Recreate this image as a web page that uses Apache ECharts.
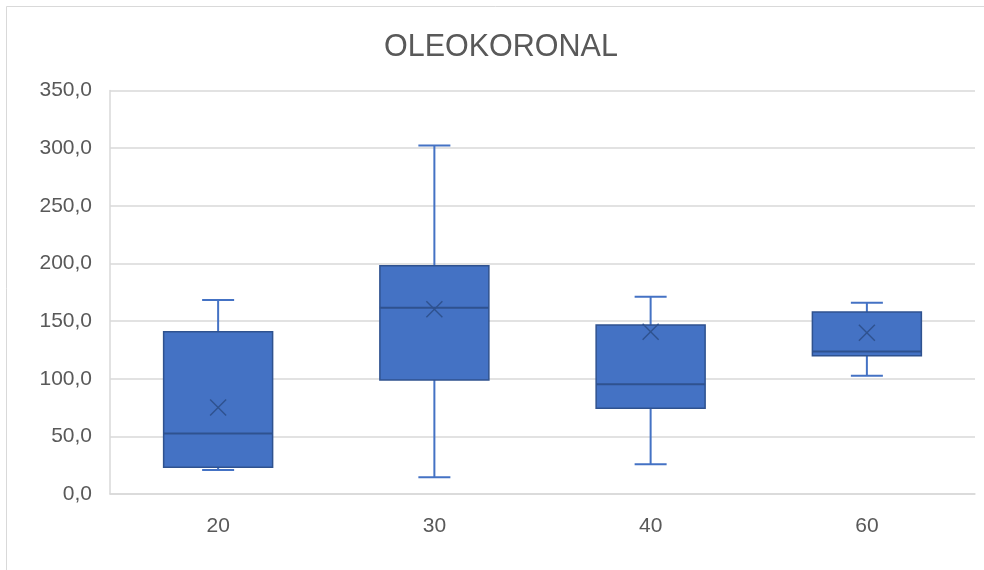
<!DOCTYPE html>
<html>
<head>
<meta charset="utf-8">
<script src="https://cdn.jsdelivr.net/npm/echarts@6/dist/echarts.min.js"></script>
<style>html,body{margin:0;padding:0;background:#fff;}#c{width:984px;height:570px;}</style>
</head>
<body>
<div id="c"></div>
<script>
var categories = ['20', '30', '40', '60'];
var minVals    = [20.9, 14.6, 25.9, 102.6];
var q1Vals     = [23.2, 98.9, 74.4, 120.0];
var medianVals = [52.4, 161.6, 95.3, 123.5];
var q3Vals     = [140.7, 198.0, 146.5, 157.9];
var maxVals    = [168.3, 302.3, 171.2, 166.0];
var meanVals   = [75.0, 160.2, 140.7, 139.9];
var yTicks     = [0, 50, 100, 150, 200, 250, 300, 350];

var data = categories.map(function (c, i) {
  return [i, minVals[i], q1Vals[i], medianVals[i], q3Vals[i], maxVals[i], meanVals[i]];
});

var FILL = '#4472C4', DARK = '#2F528F', WHISK = '#4472C4';

function renderItem(params, api) {
  var idx = api.value(0);
  var band = api.size([1, 0])[0];
  var boxW = band * 0.504, capW = band * 0.148, xs = 8;
  var pMin = api.coord([idx, api.value(1)]);
  var pQ1 = api.coord([idx, api.value(2)]);
  var pMed = api.coord([idx, api.value(3)]);
  var pQ3 = api.coord([idx, api.value(4)]);
  var pMax = api.coord([idx, api.value(5)]);
  var pMean = api.coord([idx, api.value(6)]);
  var cx = pMed[0];
  var wl = {stroke: WHISK, lineWidth: 2};
  return {
    type: 'group',
    children: [
      {type: 'line', shape: {x1: cx, y1: pMax[1], x2: cx, y2: pQ3[1]}, style: wl},
      {type: 'line', shape: {x1: cx - capW / 2, y1: pMax[1], x2: cx + capW / 2, y2: pMax[1]}, style: wl},
      {type: 'line', shape: {x1: cx, y1: pMin[1], x2: cx, y2: pQ1[1]}, style: wl},
      {type: 'line', shape: {x1: cx - capW / 2, y1: pMin[1], x2: cx + capW / 2, y2: pMin[1]}, style: wl},
      {type: 'rect', shape: {x: cx - boxW / 2, y: pQ3[1], width: boxW, height: pQ1[1] - pQ3[1]},
        style: {fill: FILL, stroke: DARK, lineWidth: 1.5}},
      {type: 'line', shape: {x1: cx - boxW / 2, y1: pMed[1], x2: cx + boxW / 2, y2: pMed[1]},
        style: {stroke: DARK, lineWidth: 2}},
      {type: 'line', shape: {x1: cx - xs, y1: pMean[1] - xs, x2: cx + xs, y2: pMean[1] + xs},
        style: {stroke: DARK, lineWidth: 1.5}},
      {type: 'line', shape: {x1: cx - xs, y1: pMean[1] + xs, x2: cx + xs, y2: pMean[1] - xs},
        style: {stroke: DARK, lineWidth: 1.5}}
    ]
  };
}

var chart = echarts.init(document.getElementById('c'), null, {renderer: 'canvas'});
chart.setOption({
  animation: false,
  backgroundColor: '#ffffff',
  textStyle: {fontFamily: 'Liberation Sans'},
  title: {
    text: 'OLEOKORONAL', left: 379, top: 27,
    textStyle: {fontFamily: 'Liberation Sans', fontSize: 30.5, fontWeight: 'normal', color: '#595959'}
  },
  graphic: [{
    type: 'rect', shape: {x: 6.5, y: 6.5, width: 1200, height: 1000},
    style: {fill: 'none', stroke: '#d9d9d9', lineWidth: 1}, silent: true
  }],
  grid: {left: 110, right: 9, top: 90.5, bottom: 76},
  xAxis: {
    type: 'category', data: categories,
    axisLine: {show: true, lineStyle: {color: '#d9d9d9', width: 1.5}},
    axisTick: {show: false},
    axisLabel: {fontSize: 21, color: '#595959', margin: 22}
  },
  yAxis: {
    type: 'value', min: yTicks[0], max: yTicks[yTicks.length - 1], interval: 50,
    axisLine: {show: true, lineStyle: {color: '#d9d9d9', width: 1.5}},
    axisTick: {show: false},
    splitLine: {lineStyle: {color: '#d9d9d9', width: 1.5}},
    axisLabel: {
      fontSize: 21, color: '#595959', margin: 18,
      formatter: function (v) { return v.toFixed(1).replace('.', ','); }
    }
  },
  series: [{
    type: 'custom', renderItem: renderItem, data: data,
    encode: {x: 0, y: [1, 2, 3, 4, 5, 6]}
  }]
});
</script>
</body>
</html>
